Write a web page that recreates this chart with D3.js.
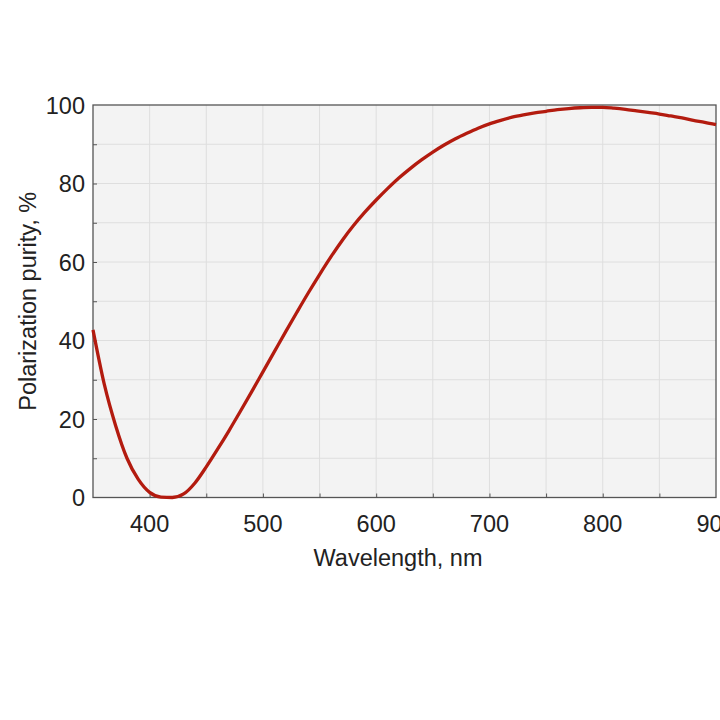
<!DOCTYPE html>
<html>
<head>
<meta charset="utf-8">
<script src="https://cdn.jsdelivr.net/npm/d3@7"></script>
<style>
  body { margin: 0; background: #fff; }
  svg { display: block; font-family: "Liberation Sans", Arial, sans-serif; }
</style>
</head>
<body>
<svg id="chart" width="720" height="720"></svg>
<script>
// wavelength (nm) and polarization purity (%)
var wavelength = [350, 360, 370, 380, 390, 400, 410, 420, 430, 440, 450, 460, 470, 480, 490,
  500, 510, 520, 530, 540, 550, 560, 570, 580, 590, 600, 610, 620, 630, 640, 650, 660, 670,
  680, 690, 700, 710, 720, 730, 740, 750, 760, 770, 780, 790, 800, 810, 820, 830, 840, 850,
  860, 870, 880, 890, 900];
var purity = [42.7, 28.8, 18.3, 10, 4.6, 1.3, 0.1, 0, 0.9, 3.7, 7.8, 12.3, 17, 21.9, 26.9,
  32, 37.1, 42.2, 47.2, 52.1, 56.8, 61.3, 65.5, 69.3, 72.7, 75.8, 78.7, 81.4, 83.8, 86, 88, 89.8, 91.4,
  92.8, 94.1, 95.2, 96.1, 96.9, 97.5, 98, 98.4, 98.8, 99.1, 99.3, 99.4, 99.4, 99.2, 98.9, 98.5, 98.1, 97.7,
  97.2, 96.7, 96.1, 95.6, 95];
var xTicks = [400, 500, 600, 700, 800, 900];
var yTicks = [0, 20, 40, 60, 80, 100];
var xLabel = "Wavelength, nm";
var yLabel = "Polarization purity, %";

var svg = d3.select("#chart");
var pl = 93, pr = 716, pt = 105, pb = 497.5;

var x = d3.scaleLinear().domain([350, 900]).range([pl, pr]);
var y = d3.scaleLinear().domain([0, 100]).range([pb, pt]);

var plot = svg.append("g");
plot.append("rect")
  .attr("x", pl).attr("y", pt)
  .attr("width", pr - pl).attr("height", pb - pt)
  .attr("fill", "#f3f3f3");

// grid every 50 nm and 10 %
var gx = d3.range(400, 900, 50), gy = d3.range(10, 100, 10);
plot.selectAll("line.gx").data(gx).enter().append("line")
  .attr("x1", function(d){ return x(d); }).attr("x2", function(d){ return x(d); })
  .attr("y1", pt).attr("y2", pb)
  .attr("stroke", "#dedede").attr("stroke-width", 1);
plot.selectAll("line.gy").data(gy).enter().append("line")
  .attr("y1", function(d){ return y(d); }).attr("y2", function(d){ return y(d); })
  .attr("x1", pl).attr("x2", pr)
  .attr("stroke", "#dedede").attr("stroke-width", 1);

// axes with inward ticks
var xAxis = svg.append("g").attr("transform", "translate(0," + pb + ")")
  .call(d3.axisBottom(x).tickValues(gx).tickSize(-4).tickFormat(""));
var yAxis = svg.append("g").attr("transform", "translate(" + pl + ",0)")
  .call(d3.axisLeft(y).tickValues(gy).tickSize(-4).tickFormat(""));
[xAxis, yAxis].forEach(function(a){
  a.select(".domain").remove();
  a.selectAll("line").attr("stroke", "#555");
});

plot.append("rect")
  .attr("x", pl).attr("y", pt)
  .attr("width", pr - pl).attr("height", pb - pt)
  .attr("fill", "none").attr("stroke", "#555").attr("stroke-width", 1.3);

var line = d3.line().curve(d3.curveMonotoneX)
  .x(function(d, i){ return x(wavelength[i]); })
  .y(function(d){ return y(d); });
svg.append("path").datum(purity)
  .attr("d", line)
  .attr("fill", "none").attr("stroke", "#b31b0f").attr("stroke-width", 3.3)
  .attr("stroke-linejoin", "round");

// tick labels
svg.selectAll("text.xt").data(xTicks).enter().append("text")
  .attr("x", function(d){ return x(d); }).attr("y", pb + 34)
  .attr("text-anchor", "middle").attr("font-size", 23.5).attr("fill", "#222")
  .text(function(d){ return d; });
svg.selectAll("text.yt").data(yTicks).enter().append("text")
  .attr("x", pl - 8).attr("y", function(d){ return y(d) + 8.5; })
  .attr("text-anchor", "end").attr("font-size", 23.5).attr("fill", "#222")
  .text(function(d){ return d; });

svg.append("text")
  .attr("x", 398).attr("y", pb + 68)
  .attr("text-anchor", "middle").attr("font-size", 23.5).attr("fill", "#222")
  .text(xLabel);
svg.append("text")
  .attr("transform", "translate(36," + (pt + pb) / 2 + ") rotate(-90)")
  .attr("text-anchor", "middle").attr("font-size", 23.5).attr("fill", "#222")
  .text(yLabel);
</script>
</body>
</html>
